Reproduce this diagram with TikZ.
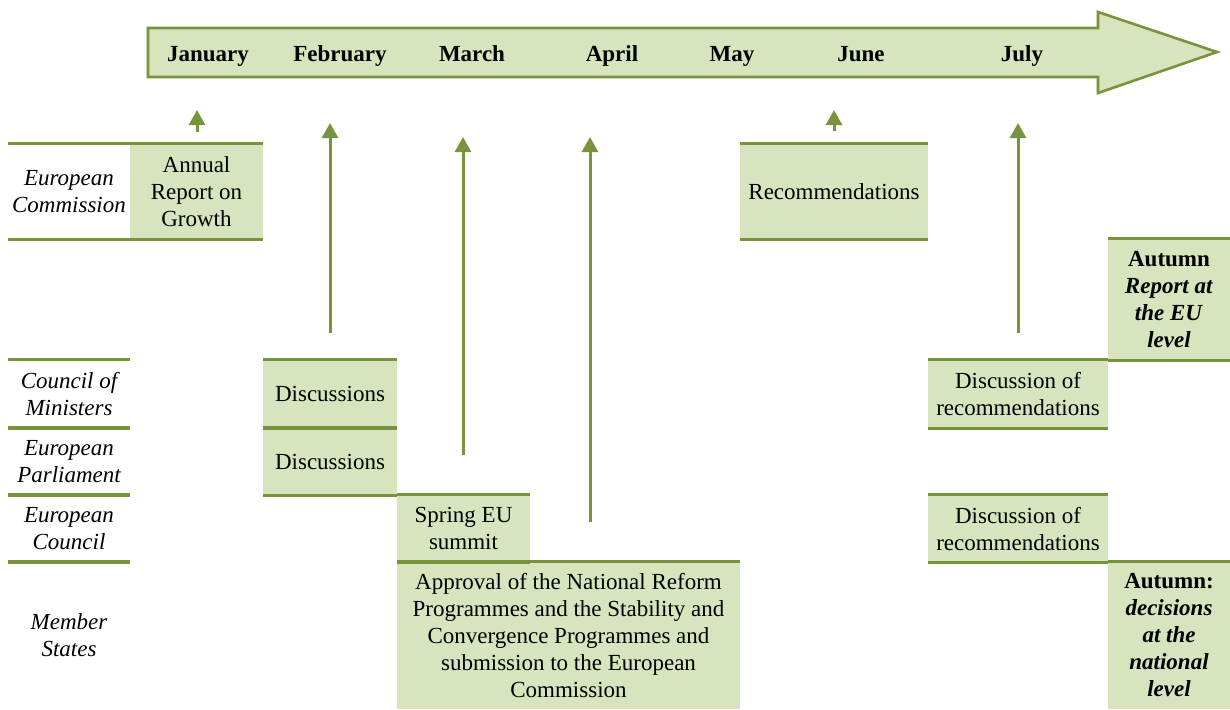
\documentclass[tikz,border=0pt]{standalone}
\usepackage{fontspec}
\setmainfont{Liberation Serif}
\usetikzlibrary{arrows.meta}
\definecolor{darkolive}{HTML}{77933C}
\definecolor{palegreen}{HTML}{D7E4BD}
\tikzset{
  cell/.style={fill=palegreen, inner sep=0pt, align=center},
  rowname/.style={inner sep=0pt, align=center, font=\itshape},
  month/.style={font=\bfseries, anchor=base},
  hrule/.style={draw=darkolive, line width=1.5pt},
  uparrow/.style={draw=darkolive, line width=1.5pt, -{Triangle[width=8pt,length=7.5pt]}}
}
\begin{document}
\fontsize{11.5}{13.5}\selectfont
\begin{tikzpicture}[x=0.5pt, y=-0.5pt]
    \useasboundingbox (0,0) rectangle (1230,709);
    % timeline
    \draw[fill=palegreen, draw=darkolive, line width=1.3pt]
        (148,28) -- (1098,28) -- (1098,12) -- (1217,52) -- (1098,93) -- (1098,77) -- (148,77) -- cycle;
    \node[month] (jan) at (208,61) {January};
    \node[month] (feb) at (340,61) {February};
    \node[month] (mar) at (472,61) {March};
    \node[month] (apr) at (612,61) {April};
    \node[month] (may) at (732,61) {May};
    \node[month] (jun) at (861,61) {June};
    \node[month] (jul) at (1022,61) {July};

    % actors
    \node[rowname, minimum width=61pt, minimum height=47.5pt] (EC) at (69,191.5) {European\\Commission};
    \node[rowname, minimum width=61pt, minimum height=34pt] (CM) at (69,394) {Council of\\Ministers};
    \node[rowname, minimum width=61pt, minimum height=33.5pt] (EP) at (69,461.5) {European\\Parliament};
    \node[rowname, minimum width=61pt, minimum height=33.5pt] (ECo) at (69,528.5) {European\\Council};
    \node[rowname, minimum width=61pt, minimum height=73.5pt] (MS) at (69,635.5) {Member\\States};

    % steps
    \node[cell, minimum width=66.5pt, minimum height=47.5pt] (EC1) at (196.5,191.5) {Annual\\Report on\\Growth};
    \node[cell, minimum width=94pt, minimum height=47.5pt] (EC2) at (834,191.5) {Recommendations};
    \node[cell, minimum width=61pt, minimum height=60.5pt] (EC3) at (1169,299.5)
        {\textbf{Autumn}\\\textbf{\textit{Report at}}\\\textbf{\textit{the EU}}\\\textbf{\textit{level}}};
    \node[cell, minimum width=67pt, minimum height=34pt] (CM1) at (330,394) {Discussions};
    \node[cell, minimum width=90pt, minimum height=34pt] (CM2) at (1018,394) {Discussion of\\recommendations};
    \node[cell, minimum width=67pt, minimum height=33.5pt] (EP1) at (330,461.5) {Discussions};
    \node[cell, minimum width=66.5pt, minimum height=33.5pt] (ECo1) at (463.5,528.5) {Spring EU\\summit};
    \node[cell, minimum width=90pt, minimum height=33.5pt] (ECo2) at (1018,528.5) {Discussion of\\recommendations};
    \node[cell, minimum width=171.5pt, minimum height=73.5pt] (MS1) at (568.5,635.5)
        {Approval of the National Reform\\Programmes and the Stability and\\Convergence Programmes and\\submission to the European\\Commission};
    \node[cell, minimum width=61pt, minimum height=73.5pt] (MS2) at (1169,635.5)
        {\textbf{Autumn:}\\\textbf{\textit{decisions}}\\\textbf{\textit{at the}}\\\textbf{\textit{national}}\\\textbf{\textit{level}}};

    % rules above and below
    \draw[hrule] (EC.north west) -- (EC.north east) (EC.south west) -- (EC.south east);
    \draw[hrule] (CM.north west) -- (CM.north east) (CM.south west) -- (CM.south east);
    \draw[hrule] (EP.north west) -- (EP.north east) (EP.south west) -- (EP.south east);
    \draw[hrule] (ECo.north west) -- (ECo.north east) (ECo.south west) -- (ECo.south east);
    \draw[hrule] (MS.north west) -- (MS.north east);
    \draw[hrule] (EC1.north west) -- (EC1.north east) (EC1.south west) -- (EC1.south east);
    \draw[hrule] (EC2.north west) -- (EC2.north east) (EC2.south west) -- (EC2.south east);
    \draw[hrule] (EC3.north west) -- (EC3.north east) (EC3.south west) -- (EC3.south east);
    \draw[hrule] (CM1.north west) -- (CM1.north east) (CM1.south west) -- (CM1.south east);
    \draw[hrule] (CM2.north west) -- (CM2.north east) (CM2.south west) -- (CM2.south east);
    \draw[hrule] (EP1.north west) -- (EP1.north east) (EP1.south west) -- (EP1.south east);
    \draw[hrule] (ECo1.north west) -- (ECo1.north east) (ECo1.south west) -- (ECo1.south east);
    \draw[hrule] (ECo2.north west) -- (ECo2.north east) (ECo2.south west) -- (ECo2.south east);
    \draw[hrule] (MS1.north west) -- (MS1.north east);
    \draw[hrule] (MS2.north west) -- (MS2.north east);

    % arrows up to the timeline
    \coordinate (A1) at (197,132);  \coordinate (B1) at (197,110);
    \coordinate (A2) at (330,333);  \coordinate (B2) at (330,123);
    \coordinate (A3) at (463,455);  \coordinate (B3) at (463,137);
    \coordinate (A4) at (590,522);  \coordinate (B4) at (590,137);
    \coordinate (A5) at (834,131);  \coordinate (B5) at (834,110);
    \coordinate (A6) at (1018,333); \coordinate (B6) at (1018,123);
    \draw[uparrow] (A1) -- (B1);
    \draw[uparrow] (A2) -- (B2);
    \draw[uparrow] (A3) -- (B3);
    \draw[uparrow] (A4) -- (B4);
    \draw[uparrow] (A5) -- (B5);
    \draw[uparrow] (A6) -- (B6);
\end{tikzpicture}
\end{document}
